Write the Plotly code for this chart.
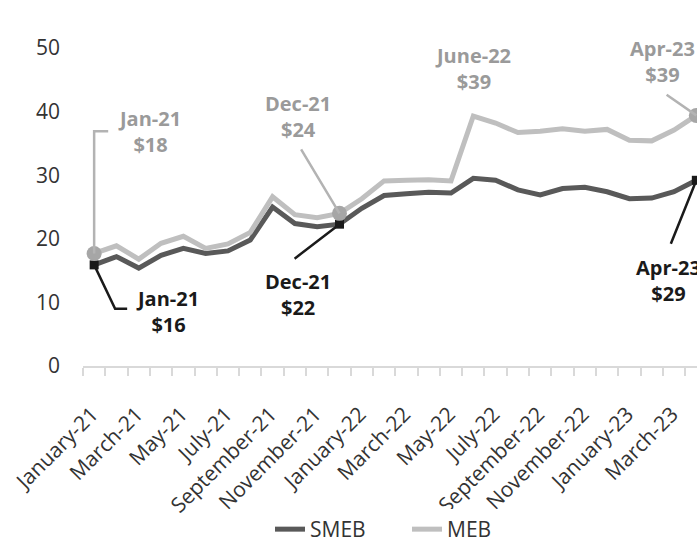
import plotly.graph_objects as go

# monthly cost of the basket (USD)
months = ["January-21", "February-21", "March-21", "April-21", "May-21", "June-21",
          "July-21", "August-21", "September-21", "October-21", "November-21", "December-21",
          "January-22", "February-22", "March-22", "April-22", "May-22", "June-22",
          "July-22", "August-22", "September-22", "October-22", "November-22", "December-22",
          "January-23", "February-23", "March-23", "April-23"]
smeb = [15.9, 17.2, 15.4, 17.4, 18.5, 17.7, 18.1, 19.8, 25.0, 22.4, 21.9, 22.3,
        24.8, 26.8, 27.1, 27.3, 27.2, 29.5, 29.2, 27.7, 26.9, 27.9, 28.1, 27.4,
        26.3, 26.4, 27.4, 29.2]
meb = [17.7, 18.9, 16.8, 19.3, 20.4, 18.5, 19.2, 21.0, 26.6, 23.8, 23.3, 24.0,
       26.3, 29.1, 29.2, 29.3, 29.1, 39.3, 38.2, 36.7, 36.9, 37.3, 36.9, 37.2,
       35.5, 35.4, 37.1, 39.4]
marked = [0, 11, 27]

FONT = "Open Sans"
DARK = "#595959"
LIGHT = "#bfbfbf"
DARK_TXT = "#1a1a1a"
LIGHT_TXT = "#9a9a9a"
AXIS_TXT = "#333333"

x = list(range(len(months)))

fig = go.Figure()
fig.add_trace(go.Scatter(x=x, y=smeb, name="SMEB", mode="lines",
                         line=dict(color=DARK, width=5)))
fig.add_trace(go.Scatter(x=x, y=meb, name="MEB", mode="lines",
                         line=dict(color=LIGHT, width=5)))
# highlighted points
fig.add_trace(go.Scatter(x=marked, y=[smeb[i] for i in marked], mode="markers",
                         marker=dict(symbol="square", size=9, color=DARK_TXT),
                         showlegend=False, hoverinfo="skip"))
fig.add_trace(go.Scatter(x=marked, y=[meb[i] for i in marked], mode="markers",
                         marker=dict(symbol="circle", size=15, color="#a6a6a6"),
                         showlegend=False, hoverinfo="skip"))

# callout labels
labels = [
    (2.47, 36.9, "Jan-21<br>$18", LIGHT_TXT),
    (3.27, 8.6, "Jan-21<br>$16", DARK_TXT),
    (9.15, 39.3, "Dec-21<br>$24", LIGHT_TXT),
    (9.15, 11.3, "Dec-21<br>$22", DARK_TXT),
    (17.0, 46.7, "June-22<br>$39", LIGHT_TXT),
    (25.47, 47.9, "Apr-23<br>$39", LIGHT_TXT),
    (25.75, 13.5, "Apr-23<br>$29", DARK_TXT),
]
for lx, ly, txt, col in labels:
    fig.add_annotation(x=lx, y=ly, text=txt, showarrow=False,
                       font=dict(family=FONT, size=20, color=col, weight="bold"))

# straight leader lines: (index, series, tail x, tail y, colour)
leaders = [
    (11, meb, 9.24, 34.3, "#b3b3b3"),
    (11, smeb, 8.92, 16.7, DARK_TXT),
    (27, meb, 25.6, 42.8, "#b3b3b3"),
    (27, smeb, 25.83, 19.0, DARK_TXT),
]
for i, ser, tx, ty, col in leaders:
    fig.add_annotation(x=i, y=ser[i], ax=tx, ay=ty, axref="x", ayref="y",
                       text="", showarrow=True, arrowhead=0, arrowwidth=2.5,
                       arrowcolor=col)

# elbow leaders for Jan-21
fig.add_shape(type="path", xref="x", yref="y",
              path=f"M 0,{meb[0]} L 0,36.9 L 0.63,36.9",
              line=dict(color="#b3b3b3", width=2.5))
fig.add_shape(type="path", xref="x", yref="y",
              path=f"M 0,{smeb[0]} L 0.94,9.0 L 1.48,9.0",
              line=dict(color=DARK_TXT, width=2.5))

fig.update_xaxes(
    range=[-0.5, 27.03], automargin=False,
    tickvals=x[::2], ticktext=months[::2], tickangle=-45,
    ticks="outside", ticklen=8, tickcolor="rgba(0,0,0,0)",
    ticklabelstandoff=18, ticklabelshift=-2, ticklabeloverflow="allow",
    minor=dict(tickvals=[i - 0.5 for i in range(len(months) + 1)],
               ticks="outside", ticklen=8, tickcolor="#d9d9d9", tickwidth=1.5),
    showline=True, linecolor="#d9d9d9", linewidth=1.5,
    showgrid=False, zeroline=False,
    tickfont=dict(family=FONT, size=21, color=AXIS_TXT),
)
fig.update_yaxes(
    range=[0, 50], dtick=10, automargin=False,
    showgrid=False, zeroline=False, showline=False,
    ticks="", ticklabelstandoff=22,
    tickfont=dict(family=FONT, size=21, color=AXIS_TXT),
)

fig.update_layout(
    width=697, height=550,
    margin=dict(l=83, r=0, t=48, b=184),
    plot_bgcolor="white", paper_bgcolor="white",
    font=dict(family=FONT, size=20, color=AXIS_TXT),
    legend=dict(orientation="h", xref="container", yref="container",
                x=270 / 697, xanchor="left", y=0, yanchor="bottom",
                entrywidth=92, entrywidthmode="pixels",
                font=dict(family=FONT, size=21, color=AXIS_TXT)),
)

fig.write_html("out.html", config={"displayModeBar": False},
               post_script="document.body.style.margin='0';document.body.style.overflow='hidden';")
